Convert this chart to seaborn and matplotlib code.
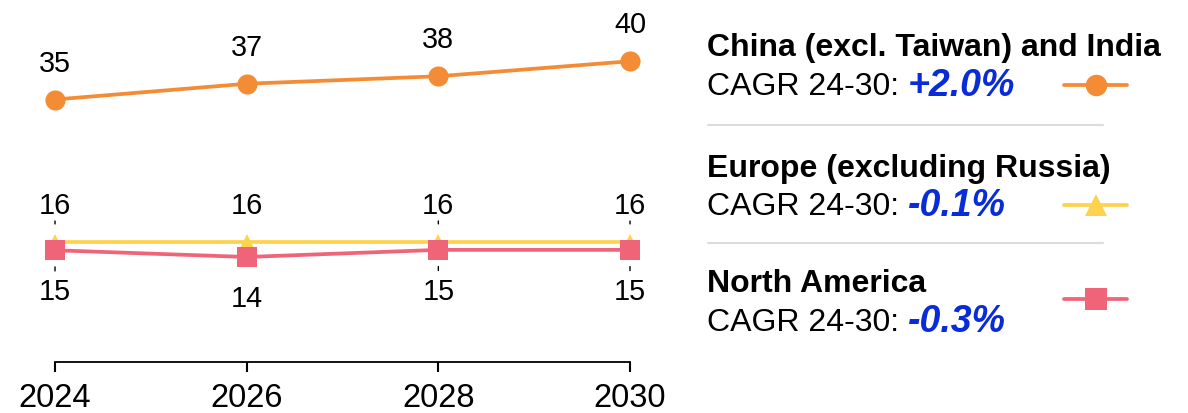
import matplotlib
matplotlib.use("Agg")
import matplotlib.pyplot as plt
import seaborn as sns
import pandas as pd
from matplotlib.lines import Line2D

years = [2024, 2026, 2028, 2030]
china_india = [35.0, 37.1, 38.1, 40.1]
europe = [16.0, 16.0, 16.0, 16.0]
north_america = [14.9, 14.0, 14.95, 14.95]
label_china = ["35", "37", "38", "40"]
label_europe = ["16", "16", "16", "16"]
label_na = ["15", "14", "15", "15"]

series_names = ["China (excl. Taiwan) and India", "Europe (excluding Russia)", "North America"]
cagr = ["+2.0%", "-0.1%", "-0.3%"]

ORANGE = "#F38C35"
YELLOW = "#FDD34E"
PINK = "#F06479"
BLUE = "#0A2CD8"

sns.set_theme(style="white")
plt.rcParams["font.family"] = ["Liberation Sans", "DejaVu Sans"]

df = pd.DataFrame({
    "year": years * 3,
    "value": china_india + europe + north_america,
    "series": [series_names[0]] * 4 + [series_names[1]] * 4 + [series_names[2]] * 4,
})

fig = plt.figure(figsize=(11.88, 4.14), dpi=100)
ax = fig.add_axes([55 / 1188, 51 / 414, 575 / 1188, 315 / 414])

styles = [(series_names[1], YELLOW, "^", 11), (series_names[2], PINK, "s", 14), (series_names[0], ORANGE, "o", 14.5)]
for name, col, mk, ms in styles:
    sub = df[df["series"] == name]
    sns.lineplot(data=sub, x="year", y="value", ax=ax, color=col, marker=mk,
                 markersize=ms, markeredgewidth=0, linewidth=2.7, clip_on=False,
                 legend=False)

for ln in ax.lines:
    ln.set_clip_on(False)

ax.set_xlim(2024, 2030)
ax.set_ylim(0, 42)
ax.set_xticks(years)
ax.set_xticklabels([str(y) for y in years])
ax.set_yticks([])
ax.set_xlabel("")
ax.set_ylabel("")
for s in ["top", "right", "left"]:
    ax.spines[s].set_visible(False)
ax.spines["bottom"].set_color("black")
ax.spines["bottom"].set_linewidth(1.3)
ax.tick_params(axis="x", which="both", bottom=True, length=7, width=1.5,
               color="black", labelsize=23.5, pad=7.5, labelcolor="black")

# data labels
for x, v, t in zip(years, china_india, label_china):
    ax.annotate(t, (x, v), xytext=(0, 26.6), textcoords="offset points",
                ha="center", va="center", fontsize=20.8, color="black")
for x, v, t in zip(years, europe, label_europe):
    ax.annotate(t, (x, v), xytext=(0, 26.6), textcoords="offset points",
                ha="center", va="center", fontsize=20.8, color="black")
for x, v, t in zip(years, north_america, label_na):
    ax.annotate(t, (x, v), xytext=(0, -29.5), textcoords="offset points",
                ha="center", va="center", fontsize=20.8, color="black")

# small leader dashes (not at 2026)
for i, x in enumerate(years):
    if i == 1:
        continue
    ax.annotate("", xy=(x, europe[i]), xytext=(0, 15.1), textcoords="offset points",
                arrowprops=dict(arrowstyle="-", color="black", lw=1.0, shrinkA=0, shrinkB=13.0))
    ax.annotate("", xy=(x, north_america[i]), xytext=(0, -14.9), textcoords="offset points",
                arrowprops=dict(arrowstyle="-", color="black", lw=1.0, shrinkA=0, shrinkB=12.0))

# legend panel
W, H = 1188, 414
def fx(px):
    return px / W
def fy(py):
    return 1 - py / H

title_y = [48, 169, 284]
cagr_y = [87, 207, 323]
glyph_y = [86, 206, 300]
glyph = [(ORANGE, "o", 15.5), (YELLOW, "^", 16), (PINK, "s", 15.5)]
for i in range(3):
    fig.text(fx(707), fy(title_y[i]), series_names[i], fontsize=23, fontweight="bold",
             ha="left", va="center", color="black")
    fig.text(fx(707), fy(cagr_y[i]), "CAGR 24-30:", fontsize=23,
             ha="left", va="center", color="black")
    fig.text(fx(908), fy(cagr_y[i] - 1), cagr[i], fontsize=27, fontweight="bold",
             fontstyle="italic", ha="left", va="center", color=BLUE)
    col, mk, ms = glyph[i]
    fig.add_artist(Line2D([fx(1064), fx(1127)], [fy(glyph_y[i]), fy(glyph_y[i])],
                          color=col, lw=2.7, transform=fig.transFigure))
    fig.add_artist(Line2D([fx(1095.5)], [fy(glyph_y[i])], color=col, marker=mk,
                          markersize=ms, markeredgewidth=0, lw=0, transform=fig.transFigure))

for sy in [126, 244]:
    fig.add_artist(Line2D([fx(708), fx(1103)], [fy(sy), fy(sy)], color="#DCDCDC",
                          lw=1.5, transform=fig.transFigure))

fig.savefig("out.png", dpi=100)
